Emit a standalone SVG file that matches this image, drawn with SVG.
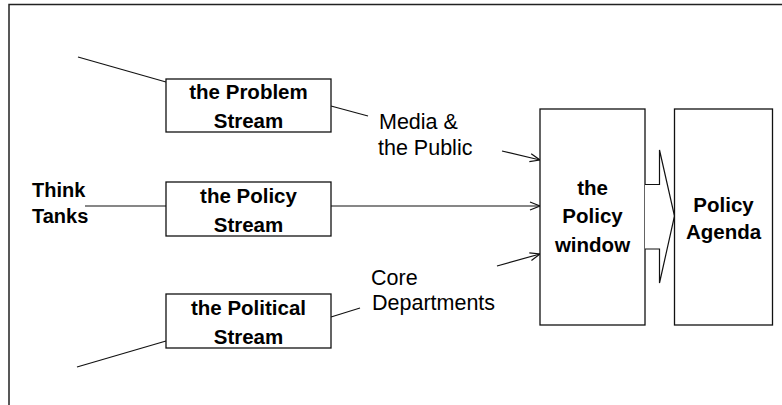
<svg xmlns="http://www.w3.org/2000/svg" width="782" height="405" viewBox="0 0 782 405">
<defs>
<marker id="arr" viewBox="0 0 12 10" refX="11" refY="5" markerWidth="12" markerHeight="10" markerUnits="userSpaceOnUse" orient="auto">
<path d="M1,1 L11,5 L1,9" fill="none" stroke="#111" stroke-width="1.2"/>
</marker>
<style>
.box{fill:#fff;stroke:#111;stroke-width:1.3}
.ln{fill:none;stroke:#111;stroke-width:1.2}
.b{font-family:"Liberation Sans",Arial,sans-serif;font-weight:bold;font-size:20.5px;fill:#000;text-anchor:middle}
.bl{font-family:"Liberation Sans",Arial,sans-serif;font-weight:bold;font-size:20px;fill:#000}
.r{font-family:"Liberation Sans",Arial,sans-serif;font-size:21.5px;fill:#000}
</style>
</defs>
<rect width="782" height="405" fill="#fff"/>
<path d="M9,405 V4.5 H782" fill="none" stroke="#222" stroke-width="1.5"/>

<g id="connectors">
<line class="ln" x1="78" y1="57" x2="166" y2="82"/>
<line class="ln" x1="331" y1="106" x2="368" y2="116"/>
<line class="ln" x1="85" y1="206" x2="166" y2="206"/>
<line class="ln" x1="77" y1="367" x2="166" y2="341"/>
<line class="ln" x1="331" y1="317" x2="360" y2="308"/>
<line class="ln" x1="502" y1="151" x2="540" y2="160" marker-end="url(#arr)"/>
<line class="ln" x1="331" y1="206" x2="540" y2="206" marker-end="url(#arr)"/>
<line class="ln" x1="497" y1="266" x2="540" y2="254" marker-end="url(#arr)"/>
</g>

<g id="problem-stream">
<rect class="box" x="166" y="79" width="165" height="53"/>
<text class="b" x="248.5" y="99">the Problem</text>
<text class="b" x="248.5" y="127.5">Stream</text>
</g>

<g id="policy-stream">
<rect class="box" x="166" y="182" width="165" height="54"/>
<text class="b" x="248.5" y="203">the Policy</text>
<text class="b" x="248.5" y="231.5">Stream</text>
</g>

<g id="political-stream">
<rect class="box" x="166" y="294" width="165" height="54"/>
<text class="b" x="248.5" y="315">the Political</text>
<text class="b" x="248.5" y="343.5">Stream</text>
</g>

<g id="think-tanks">
<text class="bl" x="32" y="196.5">Think</text>
<text class="bl" x="32" y="223">Tanks</text>
</g>

<g id="media-public">
<text class="r" x="379" y="129">Media &amp;</text>
<text class="r" x="378" y="155">the Public</text>
</g>

<g id="core-departments">
<text class="r" x="371" y="285">Core</text>
<text class="r" x="372" y="310">Departments</text>
</g>

<g id="policy-window">
<rect class="box" x="540" y="109" width="105" height="216"/>
<text class="b" x="592.5" y="195">the</text>
<text class="b" x="592.5" y="223">Policy</text>
<text class="b" x="592.5" y="251.5">window</text>
</g>

<g id="block-arrow">
<path d="M645,184.5 H659.5 V150 L674.5,216 L659.5,283 V249 H645" fill="#fff" stroke="#111" stroke-width="1.2" stroke-linejoin="miter"/>
</g>

<g id="policy-agenda">
<rect class="box" x="674.5" y="109" width="98" height="216"/>
<text class="b" x="723.5" y="211.5">Policy</text>
<text class="b" x="723.5" y="239">Agenda</text>
</g>
</svg>
